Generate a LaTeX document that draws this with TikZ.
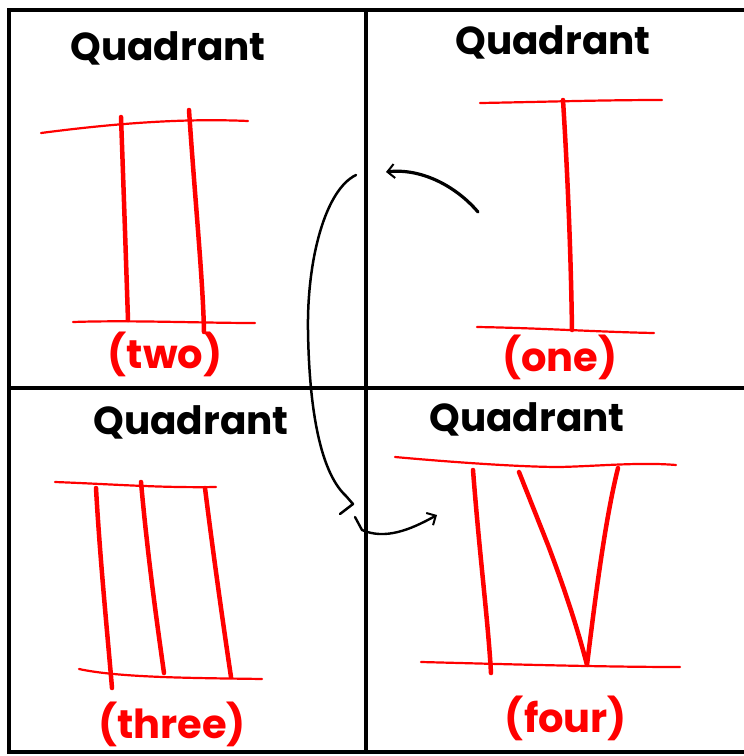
\documentclass[tikz,border=0pt]{standalone}
\usepackage{fontspec}
\setmainfont{Poppins}
\usetikzlibrary{arrows.meta}
\begin{document}
\begin{tikzpicture}[x=1pt,y=-1pt,
  gridline/.style={line width=4pt},
  redthin/.style={red, line width=2.2pt, line cap=round, line join=round},
  redthick/.style={red, line width=4.5pt, line cap=round, line join=round},
  title/.style={font=\fontsize{39}{39}\selectfont\bfseries, inner sep=0pt},
  lab/.style={red, font=\fontsize{40}{40}\selectfont\bfseries, inner sep=0pt},
  pen/.style={line width=2.4pt, line cap=round, line join=round},
  tip/.style={-{Straight Barb[length=7pt,width=14pt,line width=2pt]}}]
\useasboundingbox (0,0) rectangle (744,756);
% grid
\draw[gridline] (8,10) -- (744,10);
\draw[gridline] (8,388) -- (744,388);
\draw[gridline] (8,752) -- (744,752);
\draw[gridline] (9,8) -- (9,754);
\draw[gridline] (366,8) -- (366,754);
% titles
\node[title] (t2) at (168,48) {Quadrant};
\node[title] (t1) at (553,42) {Quadrant};
\node[title] (t3) at (191,422) {Quadrant};
\node[title] (t4) at (527,419) {Quadrant};
% labels
\node[lab] (l2) at (165,354) {(two)};
\node[lab] (l1) at (560,357) {(one)};
\node[lab] (l3) at (172,724) {(three)};
\node[lab] (l4) at (566,718) {(four)};
% numeral II
\draw[redthin] (41,133) .. controls (110,124) and (180,118) .. (248,121);
\draw[redthin] (73,322) .. controls (130,320) and (200,323) .. (255,323);
\draw[redthick] (121,117) .. controls (124,200) and (126,260) .. (128,320);
\draw[redthick] (189,110) .. controls (195,200) and (203,280) .. (204,332);
% numeral I
\draw[redthin] (480,103) .. controls (540,102) and (600,100) .. (662,100);
\draw[redthin] (477,327) .. controls (540,328) and (600,332) .. (654,333);
\draw[redthick] (563,100) .. controls (568,180) and (571,260) .. (572,330);
% numeral III
\draw[redthin] (55,482) .. controls (110,484) and (160,488) .. (216,487);
\draw[redthin] (79,669) .. controls (120,678) and (200,678) .. (262,679);
\draw[redthick] (96,488) .. controls (100,560) and (108,640) .. (112,688);
\draw[redthick] (141,482) .. controls (148,560) and (158,630) .. (164,673);
\draw[redthick] (205,488) .. controls (214,560) and (224,630) .. (231,677);
% numeral IV
\draw[redthin] (395,457) .. controls (450,462) and (520,467) .. (560,467) .. controls (600,466) and (640,462) .. (676,465);
\draw[redthin] (421,662) .. controls (500,664) and (600,667) .. (680,667);
\draw[redthick] (473,470) .. controls (480,560) and (488,620) .. (491,673);
\draw[redthick] (519,472) -- (548,545) .. controls (565,590) and (578,630) .. (587,665) .. controls (595,600) and (605,520) .. (618,468);
% arrows
\coordinate (a1s) at (478,212);
\coordinate (a1e) at (386,172);
\draw[pen, line width=3.2pt, tip] (a1s) .. controls (455,185) and (420,168) .. (a1e);
\coordinate (bs) at (356,175);
\coordinate (bm) at (308,330);
\coordinate (be) at (346,496);
\draw[pen, line width=2.5pt] (bs) .. controls (325,190) and (307,260) .. (bm) .. controls (309,400) and (318,470) .. (be) -- (353,504) -- (340,514);
\coordinate (a2s) at (355,517);
\coordinate (a2e) at (437,515);
\draw[pen, tip] (a2s) -- (362,530) .. controls (385,540) and (410,530) .. (a2e);
\end{tikzpicture}
\end{document}
